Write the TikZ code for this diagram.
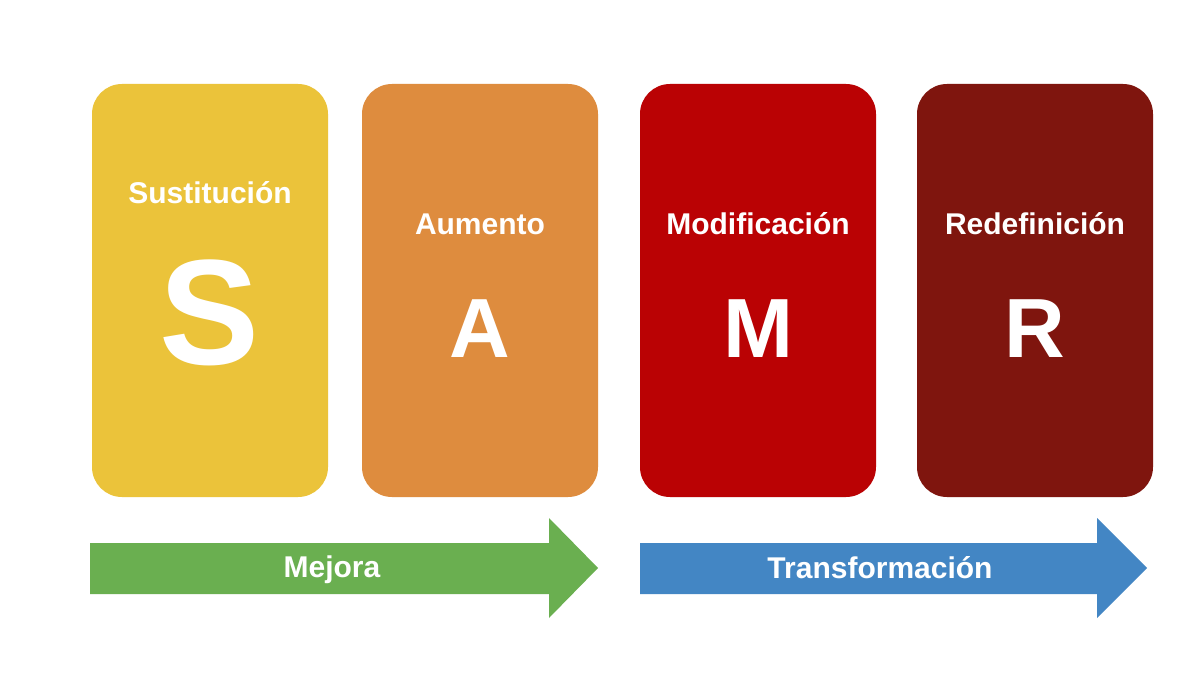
\documentclass[tikz,border=0pt]{standalone}
\usepackage{fontspec}
\setmainfont{Liberation Sans}
\begin{document}
\begin{tikzpicture}[x=1pt,y=-1pt,
  card/.style={rounded corners=30pt, minimum width=236pt, minimum height=413pt, inner sep=0pt},
  lbl/.style={text=white, font=\bfseries\fontsize{30}{36}\selectfont, inner sep=0pt, anchor=base},
  big/.style={text=white, font=\bfseries\fontsize{84}{90}\selectfont, inner sep=0pt, anchor=base},
  arrowlbl/.style={text=white, font=\bfseries\fontsize{30}{36}\selectfont, inner sep=0pt, anchor=base}]
\definecolor{cS}{HTML}{EBC33A}
\definecolor{cA}{HTML}{DE8C3E}
\definecolor{cM}{HTML}{BA0204}
\definecolor{cR}{HTML}{7F150E}
\definecolor{cG}{HTML}{6AAF50}
\definecolor{cB}{HTML}{4386C4}
\fill[white] (0,0) rectangle (1203,679);
\useasboundingbox (0,0) rectangle (1203,679);

\node[card, fill=cS] (S) at (210,290.5) {};
\node[card, fill=cA] (A) at (480,290.5) {};
\node[card, fill=cM] (M) at (758,290.5) {};
\node[card, fill=cR] (R) at (1035,290.5) {};

\node[lbl] (Sl) at (210,204) {Sustitución};
\node[lbl] (Al) at (480,235) {Aumento};
\node[lbl] (Ml) at (758,235) {Modificación};
\node[lbl] (Rl) at (1035,235) {Redefinición};

\node[text=white, font=\bfseries\fontsize{150}{160}\selectfont, inner sep=0pt, anchor=base] (Sb) at (210,364) {S};
\node[big] (Ab) at (480,357) {A};
\node[big] (Mb) at (758,357) {M};
\node[big] (Rb) at (1035,357) {R};

\fill[cG] (90,543) -- (549,543) -- (549,518) -- (598,568) -- (549,618) -- (549,594) -- (90,594) -- cycle;
\fill[cB] (640,543) -- (1097,543) -- (1097,518) -- (1147,568) -- (1097,618) -- (1097,594) -- (640,594) -- cycle;
\node[arrowlbl] (mej) at (332,577) {Mejora};
\node[arrowlbl] (tra) at (880,578) {Transformación};
\end{tikzpicture}
\end{document}
